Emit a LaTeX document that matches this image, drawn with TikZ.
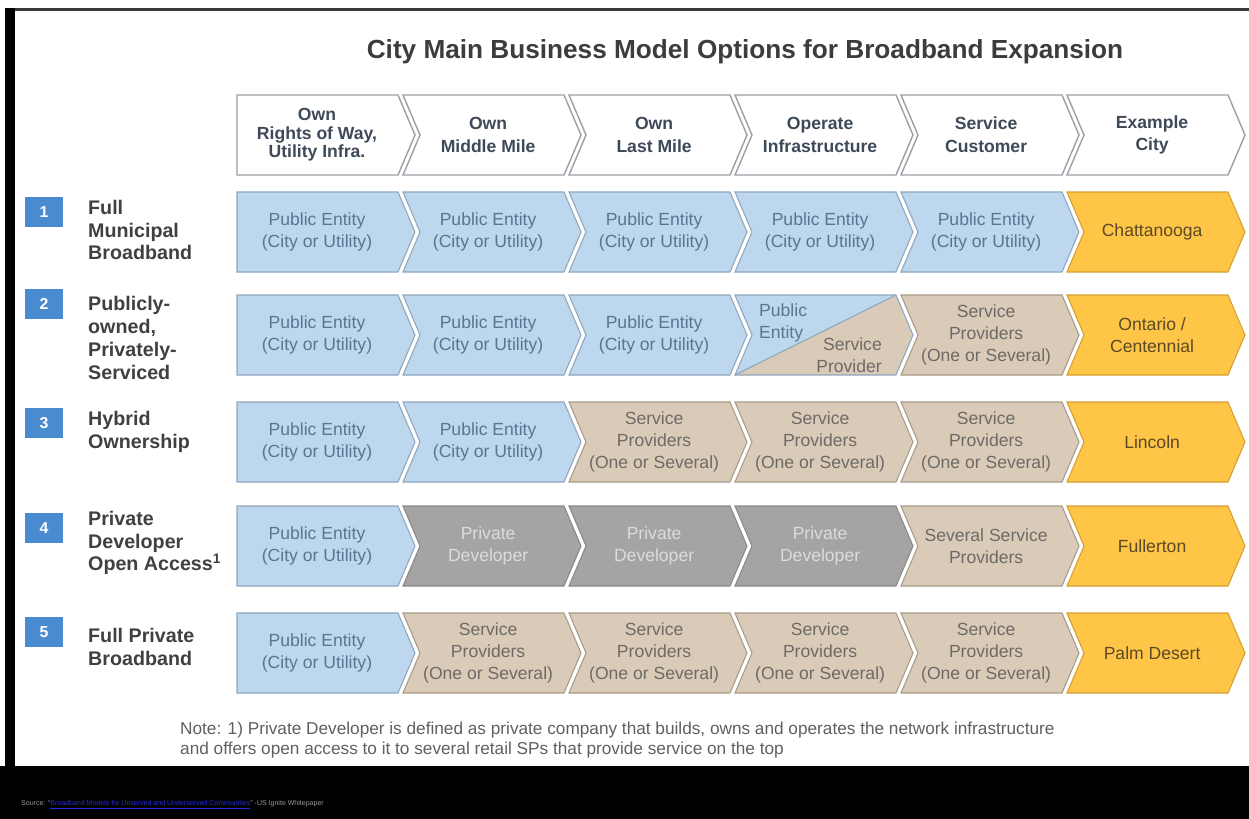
\documentclass[tikz,border=0pt]{standalone}
\usepackage{fontspec}
\setmainfont{Liberation Sans}

\definecolor{framegray}{HTML}{3A3A3A}
\definecolor{titlecol}{HTML}{3C3C3C}
\definecolor{headline}{HTML}{9AA0A8}
\definecolor{headtext}{HTML}{3E4A58}
\definecolor{pubfill}{HTML}{BDD7EE}
\definecolor{publine}{HTML}{8FA6BE}
\definecolor{pubtext}{HTML}{5B7490}
\definecolor{spfill}{HTML}{D9CBB8}
\definecolor{spline}{HTML}{A89A88}
\definecolor{sptext}{HTML}{6E6A66}
\definecolor{devfill}{HTML}{A5A3A3}
\definecolor{devline}{HTML}{8A8888}
\definecolor{devtext}{HTML}{DCDCDC}
\definecolor{cityfill}{HTML}{FFC546}
\definecolor{cityline}{HTML}{D4A032}
\definecolor{citytext}{HTML}{5A4A28}
\definecolor{numfill}{HTML}{4A8BD0}
\definecolor{labcol}{HTML}{404040}
\definecolor{notecol}{HTML}{606060}
\definecolor{linkblue}{HTML}{2A2AE0}

\tikzset{
  head/.style={fill=white,draw=headline,line width=0.8pt},
  headtxt/.style={text=headtext,font=\bfseries\fontsize{10}{13}\selectfont,align=center},
  headx/.style={head},
  headxtxt/.style={headtxt,font=\bfseries\fontsize{10}{10.6}\selectfont},
  pub/.style={fill=pubfill,draw=publine,line width=0.6pt},
  pubtxt/.style={text=pubtext,font=\fontsize{10}{12.3}\selectfont,align=center},
  sp/.style={fill=spfill,draw=spline,line width=0.6pt},
  sptxt/.style={text=sptext,font=\fontsize{10}{12.3}\selectfont,align=center},
  dev/.style={fill=devfill,draw=devline,line width=0.6pt},
  devtxt/.style={text=devtext,font=\fontsize{10}{12.3}\selectfont,align=center},
  city/.style={fill=cityfill,draw=cityline,line width=0.6pt},
  citytxt/.style={text=citytext,font=\fontsize{10}{12.3}\selectfont,align=center},
  numbox/.style={fill=numfill,text=white,font=\bfseries\fontsize{9}{10}\selectfont,
    minimum width=21.5pt,minimum height=17.5pt,inner sep=0pt},
  rowlab/.style={anchor=west,align=left,text=labcol,font=\bfseries\fontsize{11.2}{13}\selectfont}
}

% one chevron of the grid: column, top, style, name, text
\newcommand{\cell}[5]{%
  \pgfmathsetmacro{\xl}{237+166*(#1-1)}%
  \pgfmathsetmacro{\nt}{(#1>1)*17}%
  \path[#3] (\xl,#2) -- ++(161,0) -- ++(17,40) -- ++(-17,40) -- ++(-161,0) -- ++(\nt,-40) -- cycle;
  \node[#3txt] (#4) at (\xl+80+\nt*0.3,#2+40) {#5};
}

\begin{document}
\begin{tikzpicture}[x=0.02cm,y=-0.02cm]
\useasboundingbox (0,0) rectangle (1249,819);

% frame
\fill[white] (0,0) rectangle (1249,819);
\fill[framegray] (5,8) rectangle (1249,11);
\fill[black] (5,8) rectangle (15,819);
\fill[black] (0,766) rectangle (1249,819);

% title
\node[text=titlecol,font=\bfseries\fontsize{14.9}{17}\selectfont] (title) at (745,52)
  {City Main Business Model Options for Broadband Expansion};

% header row
\cell{1}{95}{headx}{h1}{Own\\Rights of Way,\\Utility Infra.}
\cell{2}{95}{head}{h2}{Own\\Middle Mile}
\cell{3}{95}{head}{h3}{Own\\Last Mile}
\cell{4}{95}{head}{h4}{Operate\\Infrastructure}
\cell{5}{95}{head}{h5}{Service\\Customer}
\cell{6}{95}{head}{h6}{Example\\City}

% row 1
\foreach \c/\s/\t in {1/pub/{Public Entity\\(City or Utility)},2/pub/{Public Entity\\(City or Utility)},
  3/pub/{Public Entity\\(City or Utility)},4/pub/{Public Entity\\(City or Utility)},
  5/pub/{Public Entity\\(City or Utility)},6/city/Chattanooga}
  {\cell{\c}{192}{\s}{ra\c}{\t}}

% row 2
\foreach \c/\s/\t in {1/pub/{Public Entity\\(City or Utility)},2/pub/{Public Entity\\(City or Utility)},
  3/pub/{Public Entity\\(City or Utility)},5/sp/{Service\\Providers\\(One or Several)},
  6/city/{Ontario /\\Centennial}}
  {\cell{\c}{295}{\s}{rb\c}{\t}}
% split cell
\fill[pubfill] (735,295) -- (896,295) -- (735,375) -- (752,335) -- cycle;
\fill[spfill] (735,375) -- (896,295) -- (913,335) -- (896,375) -- cycle;
\draw[publine,line width=0.6pt] (735,295) -- (896,295) -- (913,335) -- (896,375) -- (735,375) -- (752,335) -- cycle;
\draw[publine,line width=0.6pt] (735,375) -- (896,295);
\node[pubtxt,align=left,anchor=north west] (rb4a) at (753,298) {Public\\Entity};
\node[sptxt,align=right,anchor=north east] (rb4b) at (888,332) {Service\\Provider};

% row 3
\foreach \c/\s/\t in {1/pub/{Public Entity\\(City or Utility)},2/pub/{Public Entity\\(City or Utility)},
  3/sp/{Service\\Providers\\(One or Several)},4/sp/{Service\\Providers\\(One or Several)},
  5/sp/{Service\\Providers\\(One or Several)},6/city/Lincoln}
  {\cell{\c}{402}{\s}{rc\c}{\t}}

% row 4
\foreach \c/\s/\t in {1/pub/{Public Entity\\(City or Utility)},2/dev/{Private\\Developer},
  3/dev/{Private\\Developer},4/dev/{Private\\Developer},
  5/sp/{Several Service\\Providers},6/city/Fullerton}
  {\cell{\c}{506}{\s}{rd\c}{\t}}

% row 5
\foreach \c/\s/\t in {1/pub/{Public Entity\\(City or Utility)},2/sp/{Service\\Providers\\(One or Several)},
  3/sp/{Service\\Providers\\(One or Several)},4/sp/{Service\\Providers\\(One or Several)},
  5/sp/{Service\\Providers\\(One or Several)},6/city/Palm Desert}
  {\cell{\c}{613}{\s}{re\c}{\t}}

% row numbers and names
\node[numbox] (n1) at (44,212) {1};
\node[numbox] (n2) at (44,304) {2};
\node[numbox] (n3) at (44,423) {3};
\node[numbox] (n4) at (44,528) {4};
\node[numbox] (n5) at (44,632) {5};
\node[rowlab] (l1) at (82,230) {Full\\Municipal\\Broadband};
\node[rowlab] (l2) at (82,338) {Publicly-\\owned,\\Privately-\\Serviced};
\node[rowlab] (l3) at (82,432) {Hybrid\\Ownership};
\node[rowlab] (l4) at (82,543) {Private\\Developer\\Open Access\textsuperscript{1}};
\node[rowlab] (l5) at (82,647) {Full Private\\Broadband};

% note and source
\node[anchor=north west,align=left,text=notecol,font=\fontsize{9.8}{11.3}\selectfont] (note) at (174,716)
  {Note: 1) Private Developer is defined as private company that builds, owns and operates the network infrastructure\\
   and offers open access to it to several retail SPs that provide service on the top};
\node[anchor=west,text=gray!80,font=\fontsize{4}{5}\selectfont] (src) at (15,805)
  {Source: “\textcolor{linkblue}{\underline{Broadband Models for Unserved and Underserved Communities}}” -US Ignite Whitepaper};
\end{tikzpicture}
\end{document}
